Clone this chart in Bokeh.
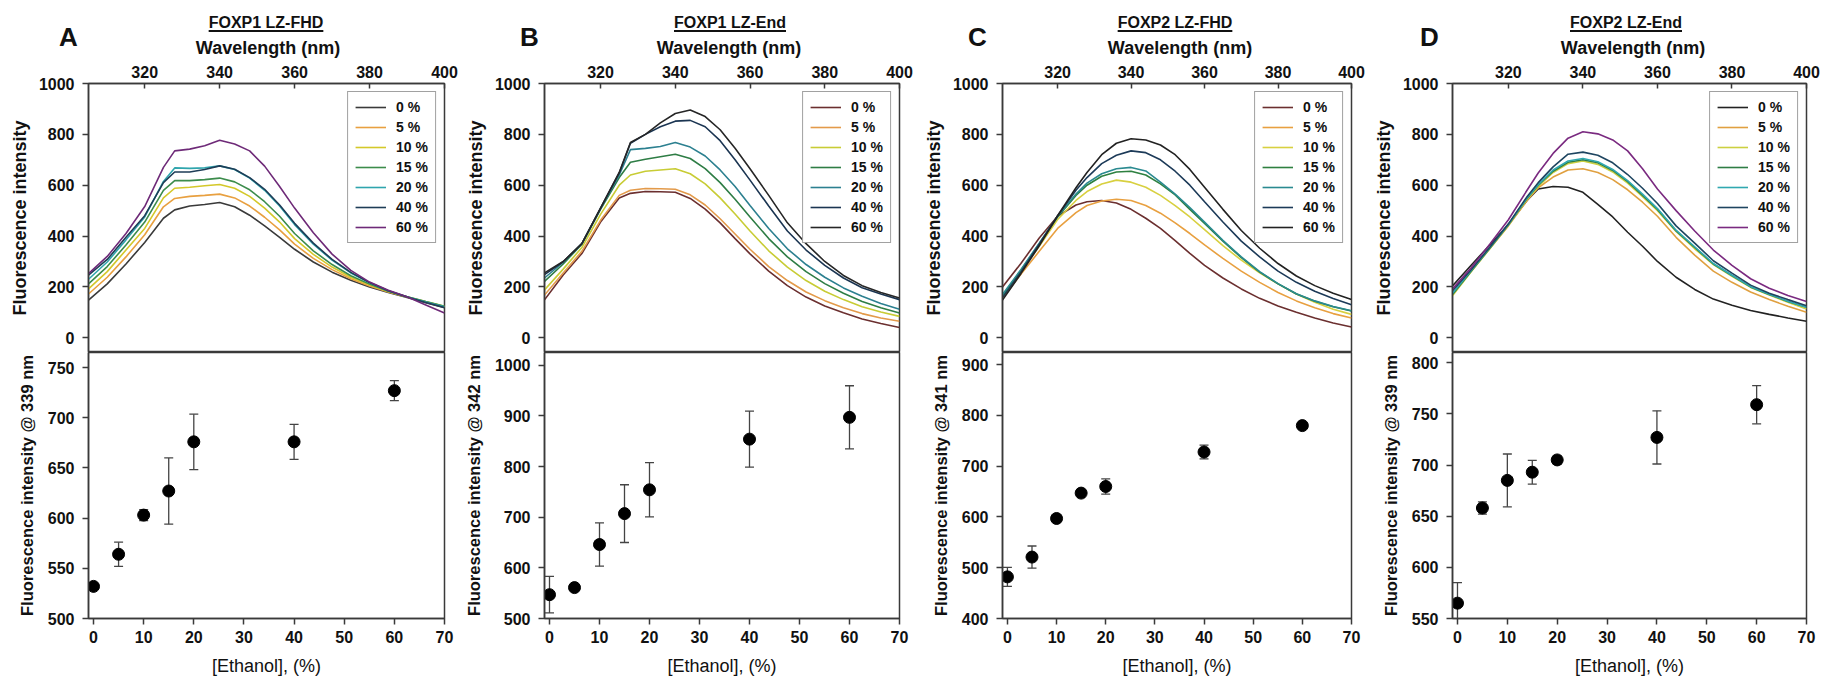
from bokeh.plotting import figure
from bokeh.models import Range1d, FixedTicker, Legend, LegendItem, BoxAnnotation, Div
from bokeh.layouts import row, column
from bokeh.embed import file_html
from bokeh.resources import INLINE

# ---------------- data ----------------
WAVELENGTH = [305, 310, 315, 320, 325, 328, 332, 336, 340, 344, 348, 352, 356, 360,
              365, 370, 375, 380, 385, 390, 395, 400]
CONC_LABELS = ["0 %", "5 %", "10 %", "15 %", "20 %", "40 %", "60 %"]
ETHANOL = [0, 5, 10, 15, 20, 40, 60]

# Panel A  FOXP1 LZ-FHD
A_SPECTRA = [
    [148, 212, 290, 375, 470, 503, 518, 524, 532, 515, 482, 440, 395, 348, 298, 258, 226, 200, 178, 158, 138, 118],
    [172, 238, 318, 405, 515, 548, 556, 560, 565, 550, 518, 474, 424, 368, 312, 268, 232, 204, 180, 160, 141, 122],
    [192, 260, 345, 430, 550, 588, 592, 598, 603, 588, 556, 510, 455, 390, 328, 278, 238, 208, 182, 161, 142, 124],
    [212, 280, 365, 455, 580, 618, 618, 622, 628, 613, 582, 535, 478, 410, 342, 288, 244, 211, 183, 161, 142, 124],
    [230, 298, 385, 475, 615, 668, 666, 668, 676, 662, 628, 580, 518, 445, 368, 305, 255, 216, 185, 161, 141, 122],
    [246, 308, 395, 480, 610, 652, 652, 662, 676, 663, 630, 584, 522, 450, 372, 308, 257, 217, 185, 160, 139, 119],
    [252, 320, 410, 516, 670, 735, 742, 755, 777, 762, 735, 675, 595, 510, 413, 329, 265, 219, 187, 161, 129, 97],
]
A_MEAN = [532, 564, 603, 627, 676, 676, 727]
A_ERR = [3, 12, 5.5, 33, 27.6, 17.4, 10]

# Panel B  FOXP1 LZ-End
B_SPECTRA = [
    [149, 247, 331, 455, 550, 568, 575, 574, 572, 548, 506, 452, 390, 330, 262, 205, 160, 125, 98, 74, 56, 40],
    [168, 255, 340, 462, 560, 580, 587, 586, 584, 562, 522, 468, 408, 348, 280, 225, 180, 146, 118, 95, 78, 65],
    [188, 270, 355, 485, 600, 640, 655, 660, 665, 645, 605, 550, 487, 420, 342, 278, 225, 183, 150, 122, 101, 84],
    [222, 290, 368, 505, 630, 690, 702, 712, 722, 705, 665, 610, 545, 475, 390, 318, 260, 213, 175, 143, 118, 97],
    [235, 297, 370, 508, 640, 740, 745, 752, 768, 750, 715, 660, 595, 520, 430, 350, 288, 238, 196, 163, 135, 112],
    [248, 299, 370, 510, 648, 765, 800, 830, 852, 855, 830, 775, 700, 620, 518, 420, 345, 285, 235, 197, 172, 150],
    [255, 300, 370, 510, 650, 768, 800, 845, 882, 896, 870, 818, 745, 665, 560, 452, 370, 300, 245, 205, 178, 156],
]
B_MEAN = [547, 561, 646, 707, 754, 854, 897]
B_ERR = [36, 3, 42.7, 57, 53.6, 55.3, 62.4]

# Panel C  FOXP2 LZ-FHD
C_SPECTRA = [
    [200, 292, 392, 478, 522, 535, 540, 530, 505, 470, 430, 382, 332, 285, 235, 192, 155, 125, 100, 78, 58, 42],
    [155, 250, 340, 430, 492, 520, 538, 545, 540, 520, 490, 452, 410, 365, 312, 262, 218, 178, 145, 118, 95, 78],
    [160, 260, 360, 465, 540, 575, 605, 620, 612, 592, 560, 520, 475, 425, 362, 305, 255, 212, 172, 140, 112, 92],
    [165, 265, 370, 475, 560, 600, 635, 652, 655, 640, 605, 562, 505, 450, 380, 315, 258, 212, 172, 144, 122, 105],
    [170, 268, 372, 478, 565, 608, 645, 665, 670, 656, 612, 565, 512, 455, 383, 318, 260, 213, 173, 145, 123, 106],
    [158, 258, 368, 480, 580, 630, 685, 718, 735, 728, 700, 655, 600, 535, 455, 380, 318, 262, 218, 183, 154, 130],
    [148, 252, 362, 480, 590, 650, 720, 765, 783, 778, 758, 720, 662, 592, 505, 422, 352, 292, 243, 205, 175, 150],
]
C_MEAN = [482, 521, 597, 647, 660, 728, 780]
C_ERR = [18.6, 21.8, 3, 3, 15, 13.7, 3]

# Panel D  FOXP2 LZ-End
D_SPECTRA = [
    [204, 285, 365, 445, 540, 585, 595, 592, 572, 525, 475, 415, 360, 300, 238, 190, 152, 128, 107, 92, 78, 65],
    [172, 262, 350, 440, 540, 590, 632, 660, 665, 650, 622, 582, 533, 478, 395, 325, 262, 218, 180, 150, 124, 100],
    [165, 260, 350, 442, 545, 595, 650, 685, 695, 682, 652, 608, 555, 500, 418, 350, 288, 242, 198, 168, 140, 113],
    [170, 262, 352, 444, 548, 600, 655, 690, 700, 688, 658, 614, 560, 505, 420, 355, 290, 245, 200, 170, 143, 120],
    [175, 265, 354, 446, 550, 602, 660, 695, 705, 692, 662, 618, 565, 508, 423, 358, 292, 246, 201, 171, 144, 120],
    [185, 268, 356, 448, 555, 610, 672, 722, 730, 718, 688, 642, 588, 528, 440, 372, 303, 254, 207, 175, 150, 126],
    [192, 275, 368, 464, 580, 648, 725, 785, 810, 802, 778, 735, 665, 585, 500, 420, 345, 285, 232, 195, 166, 143],
]
D_MEAN = [565, 658, 685, 693, 705, 727, 759]
D_ERR = [20, 6, 25.8, 11.6, 4, 26, 18.7]

A_COLORS = ["#3a3a3a", "#e8a040", "#d4c82a", "#3c8c4c", "#2fa5ad", "#1e3d57", "#6e2a78"]
B_COLORS = ["#6b2f2f", "#e39a4a", "#c8cc35", "#2e7d45", "#2c8090", "#1b3552", "#262626"]
C_COLORS = ["#6b2f2f", "#e8a040", "#d8d040", "#2e8040", "#2a8a90", "#1c3a58", "#222222"]
D_COLORS = ["#222222", "#e0a040", "#ccd040", "#2e7d45", "#30a8b0", "#1e4560", "#7a2a80"]

TITLES = ["FOXP1 LZ-FHD", "FOXP1 LZ-End", "FOXP2 LZ-FHD", "FOXP2 LZ-End"]
LETTERS = ["A", "B", "C", "D"]
PEAK_NM = [339, 342, 341, 339]

TOP_YTICKS = [0, 200, 400, 600, 800, 1000]
TOP_XTICKS = [320, 340, 360, 380, 400]
BOT_XTICKS = [0, 10, 20, 30, 40, 50, 60, 70]
BOT_YTICKS = [
    [500, 550, 600, 650, 700, 750],
    [500, 600, 700, 800, 900, 1000],
    [400, 500, 600, 700, 800, 900],
    [550, 600, 650, 700, 750, 800],
]
BOT_YRANGE = [(500, 765), (500, 1025), (400, 924), (550, 810)]

# ---------------- style / layout ----------------
FONT = "Liberation Sans"
AX = "#3a3a3a"
TXT = "#111111"
# (fig width, border left, border right, letter dx, title cx, divider ext, xlabel cx)
GEOM = [
    (458, 88, 14, -29, 178, 73, 180),
    (455, 86, 14, -24, 186, 75, 185),
    (452, 89, 14, -34, 173, 75, 178),
    (455, 87, 14, -32, 174, 85, 181),
]
HEAD_H, TOP_H, BOT_H = 58, 294, 328


def style_axis(ax, ticks, tin, tout, lstand, label, astand, bold=True, size="18px"):
    ax.ticker = FixedTicker(ticks=ticks, minor_ticks=[])
    ax.major_tick_in = tin
    ax.major_tick_out = tout
    ax.minor_tick_in = 0
    ax.minor_tick_out = 0
    ax.major_tick_line_color = AX
    ax.major_tick_line_width = 1.5
    ax.axis_line_color = AX
    ax.axis_line_width = 1.5
    ax.major_label_text_font = FONT
    ax.major_label_text_font_style = "bold"
    ax.major_label_text_font_size = "16px"
    ax.major_label_text_color = TXT
    ax.major_label_standoff = lstand
    ax.axis_label = label
    ax.axis_label_text_font = FONT
    ax.axis_label_text_font_style = "bold" if bold else "normal"
    ax.axis_label_text_font_size = size
    ax.axis_label_text_color = TXT
    ax.axis_label_standoff = astand


def make_header(i):
    W, bl, br, ldx, tcx, ext, xlc = GEOM[i]
    span = "position:absolute;white-space:nowrap;font-weight:bold;"
    html = (
        f'<div style="position:relative;width:{W}px;height:{HEAD_H}px;'
        f"font-family:'{FONT}',Arial,sans-serif;color:{TXT};\">"
        f'<span style="{span}left:{bl + ldx}px;top:24px;font-size:26px;line-height:26px;">'
        f'{LETTERS[i]}</span>'
        f'<span style="{span}left:{bl + tcx}px;top:15px;font-size:16px;line-height:16px;'
        f'transform:translateX(-50%);text-decoration:underline;'
        f'text-decoration-thickness:1.5px;text-underline-offset:2px;">{TITLES[i]}</span>'
        f'<span style="{span}left:{bl + xlc}px;top:39px;font-size:18px;line-height:18px;'
        f'transform:translateX(-50%);">Wavelength (nm)</span>'
        '</div>'
    )
    return Div(text=html, width=W, height=HEAD_H, margin=0)


def make_panel(i, spectra, colors, mean, err):
    W, bl, br, ldx, tcx, ext, xlc = GEOM[i]
    head = make_header(i)

    top = figure(width=W, height=TOP_H, x_range=Range1d(305, 400), y_range=Range1d(-58, 1000),
                 x_axis_location="above", output_backend="svg", toolbar_location=None,
                 min_border_left=bl, min_border_right=br, min_border_top=25, min_border_bottom=0)
    top.grid.visible = False
    top.outline_line_color = AX
    top.outline_line_width = 1.5
    style_axis(top.xaxis[0], TOP_XTICKS, 5, 0, 6, None, 0)
    style_axis(top.yaxis[0], TOP_YTICKS, 0, 6, 8, "Fluorescence intensity", 6)

    items = []
    for vals, col, lab in zip(spectra, colors, CONC_LABELS):
        r = top.line(WAVELENGTH, vals, line_color=col, line_width=1.6)
        items.append(LegendItem(label=lab, renderers=[r]))
    leg = Legend(items=items, location="top_right", margin=8, padding=7, spacing=4,
                 glyph_width=31, glyph_height=14, label_height=14, label_standoff=10,
                 label_text_font=FONT, label_text_font_style="bold", label_text_font_size="14px",
                 label_text_color=TXT,
                 border_line_color="#444444", border_line_width=1.5, background_fill_alpha=1)
    top.add_layout(leg)
    # divider line extends to the left of the frame
    top.add_layout(BoxAnnotation(left=-ext, right=0, bottom=0, top=1.5,
                                 left_units="screen", right_units="screen",
                                 bottom_units="screen", top_units="screen",
                                 fill_color=AX, fill_alpha=1, line_alpha=0))

    bot = figure(width=W, height=BOT_H, x_range=Range1d(-1, 70), y_range=Range1d(*BOT_YRANGE[i]),
                 output_backend="svg", toolbar_location=None,
                 min_border_left=bl, min_border_right=br, min_border_top=0, min_border_bottom=62)
    bot.grid.visible = False
    bot.outline_line_color = AX
    bot.outline_line_width = 1.5
    style_axis(bot.xaxis[0], BOT_XTICKS, 0, 6, 6, "[Ethanol], (%)", 10, bold=False)
    style_axis(bot.yaxis[0], BOT_YTICKS[i], 0, 6, 8,
               "Fluorescence intensity @ %d nm" % PEAK_NM[i], 9, size="16.5px")

    upper = [m + e for m, e in zip(mean, err)]
    lower = [m - e for m, e in zip(mean, err)]
    bot.segment(x0=ETHANOL, y0=lower, x1=ETHANOL, y1=upper, line_color="#444444", line_width=1.3)
    bot.scatter(ETHANOL, upper, marker="dash", size=9, line_color="#444444", line_width=1.3)
    bot.scatter(ETHANOL, lower, marker="dash", size=9, line_color="#444444", line_width=1.3)
    bot.scatter(ETHANOL, mean, size=12, fill_color="black", line_color="black")
    return column(head, top, bot)


panels = [
    make_panel(0, A_SPECTRA, A_COLORS, A_MEAN, A_ERR),
    make_panel(1, B_SPECTRA, B_COLORS, B_MEAN, B_ERR),
    make_panel(2, C_SPECTRA, C_COLORS, C_MEAN, C_ERR),
    make_panel(3, D_SPECTRA, D_COLORS, D_MEAN, D_ERR),
]
layout = row(*panels)

open("out.html", "w").write(file_html(layout, INLINE))
